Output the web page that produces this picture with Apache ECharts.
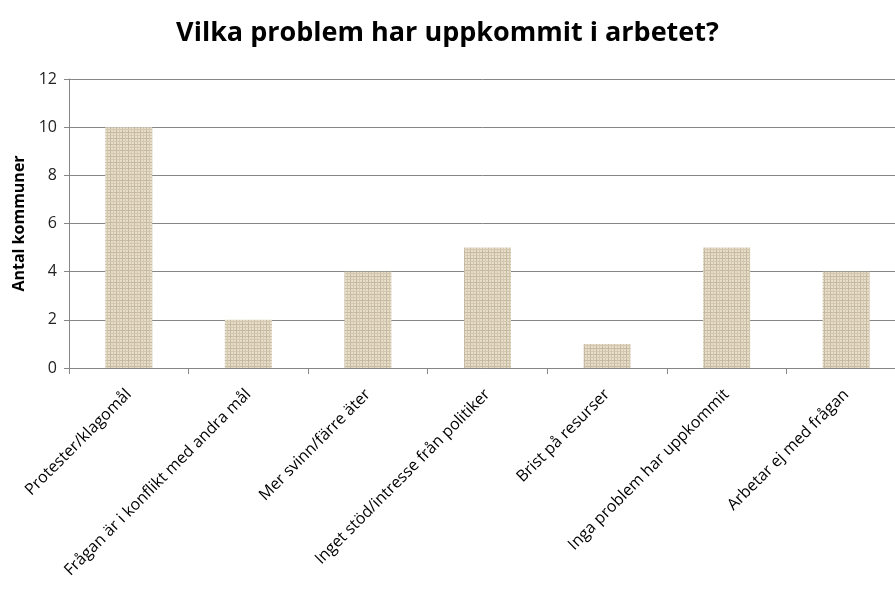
<!DOCTYPE html>
<html><head><meta charset="utf-8">
<script src="https://cdn.jsdelivr.net/npm/echarts@6/dist/echarts.min.js"></script>
<style>html,body{margin:0;padding:0;background:#fff}#c{width:895px;height:605px}</style>
</head><body><div id="c"></div>
<script>
const categories = ["Protester/klagomål","Frågan är i konflikt med andra mål","Mer svinn/färre äter","Inget stöd/intresse från politiker","Brist på resurser","Inga problem har uppkommit","Arbetar ej med frågan"];
const values = [10, 2, 4, 5, 1, 5, 4];
const yTicks = [0, 2, 4, 6, 8, 10, 12];

// texture pattern for bars
const pc = document.createElement('canvas');
pc.width = 12; pc.height = 12;
const g = pc.getContext('2d');
g.fillStyle = '#e6ddcb'; g.fillRect(0,0,12,12);
g.fillStyle = '#c4b89e';
g.fillRect(0,0,12,1); g.fillRect(0,6,12,1);
g.fillRect(2,0,1,12); g.fillRect(8,0,1,12);
g.fillStyle = '#d3c7ae';
g.fillRect(5,0,1,12); g.fillRect(0,3,12,1); g.fillRect(0,9,12,1); g.fillRect(11,0,1,12);

const chart = echarts.init(document.getElementById('c'), null, {renderer:'canvas'});
chart.setOption({
  animation:false,
  title:{text:'Vilka problem har uppkommit i arbetet?', left:'center', top:15,
    textStyle:{fontFamily:'Open Sans', fontWeight:'bold', fontSize:27, color:'#000'}},
  grid:{left:69, width:837, top:79, bottom:237, outerBoundsMode:'none', containLabel:false},
  xAxis:{type:'category', data:categories,
    axisLine:{lineStyle:{color:'#868686'}},
    axisTick:{show:true, alignWithLabel:false, length:6, lineStyle:{color:'#868686'}},
    axisLabel:{rotate:45, interval:0, fontFamily:'Open Sans', fontSize:16, color:'#000', margin:24}},
  yAxis:{type:'value', min:0, max:12, interval:2,
    name:'Antal kommuner', nameLocation:'middle', nameGap:42, nameRotate:90,
    nameTextStyle:{fontFamily:'Open Sans', fontWeight:'bold', fontSize:16, color:'#000'},
    axisLine:{show:true, lineStyle:{color:'#868686'}},
    axisTick:{show:true, length:5, lineStyle:{color:'#868686'}},
    axisLabel:{fontFamily:'Open Sans', fontSize:16, color:'#222', margin:12,
      formatter:v=>yTicks.includes(v)?String(v):''},
    splitLine:{lineStyle:{color:'#868686'}}},
  series:[{type:'bar', data:values, barWidth:47,
    itemStyle:{color:{image:pc, repeat:'repeat'}}}]
});
</script></body></html>
